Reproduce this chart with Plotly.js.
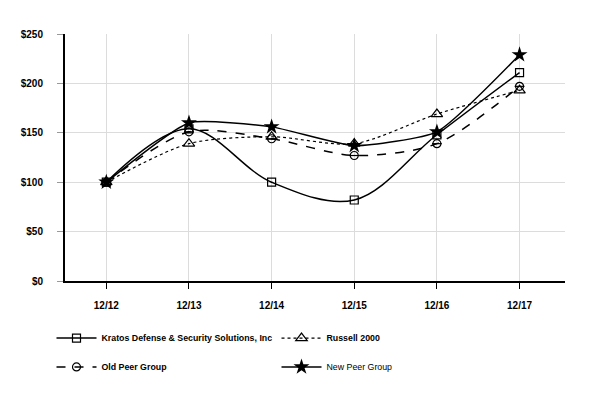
<!DOCTYPE html>
<html><head><meta charset="utf-8">
<script src="https://cdn.plot.ly/plotly-3.0.1.min.js"></script>
<style>body{margin:0;background:#fff}#c{width:600px;height:400px}</style>
</head><body><div id="c"></div>
<script>
const categories = ["12/12","12/13","12/14","12/15","12/16","12/17"];
const kratos = [100, 154, 100, 82, 148, 211];
const russell = [100, 139, 146, 139, 169, 193];
const oldPeer = [100, 151, 144, 127, 139, 197];
const newPeer = [100, 160, 156, 137, 151, 229];
const yTicks = [0, 50, 100, 150, 200, 250];
const yTickText = ["$0","$50","$100","$150","$200","$250"];

const idx = categories.map((_, i) => i);
const traces = [
  {x: idx, y: kratos, name: "<b>Kratos Defense & Security Solutions, Inc</b>", mode: "lines+markers", legend: "legend",
   line: {color: "#000", width: 1.5, shape: "spline", smoothing: 1},
   marker: {symbol: "square-open", size: 8, color: "#000", line: {width: 1.2}}},
  {x: idx, y: russell, name: "<b>Russell 2000</b>", mode: "lines+markers", legend: "legend",
   line: {color: "#000", width: 1.2, dash: "dot", shape: "spline", smoothing: 0.8},
   marker: {symbol: "triangle-up-open", size: 10, color: "#000", line: {width: 1.2}}},
  {x: idx, y: oldPeer, name: "<b>Old Peer Group</b>", mode: "lines+markers", legend: "legend2",
   line: {color: "#000", width: 1.5, dash: "dash", shape: "spline", smoothing: 0.8},
   marker: {symbol: "circle-open", size: 8, color: "#000", line: {width: 1.2}}},
  {x: idx, y: newPeer, name: "New Peer Group", mode: "lines+markers", legend: "legend2",
   line: {color: "#000", width: 1.5, shape: "spline", smoothing: 0.5},
   marker: {symbol: "star", size: 12, color: "#000"}},
  {x: idx, y: oldPeer, mode: "markers", showlegend: false, hoverinfo: "skip",
   marker: {symbol: "line-ew-open", size: 7, color: "#000", line: {width: 1.2, color: "#000"}}}
];

const legendBase = {orientation: "h", x: -0.027, xanchor: "left", yanchor: "middle",
  entrywidth: 170, entrywidthmode: "pixels", itemwidth: 40,
  font: {size: 8.8, color: "#000"}, bgcolor: "rgba(0,0,0,0)"};

const layout = {
  width: 600, height: 400,
  margin: {l: 65, r: 35, t: 34, b: 119},
  paper_bgcolor: "#fff", plot_bgcolor: "#fff",
  font: {family: "Liberation Sans, Arial, sans-serif", size: 10, color: "#000"},
  showlegend: true,
  legend: Object.assign({}, legendBase, {y: -0.231}),
  legend2: Object.assign({}, legendBase, {y: -0.348}),
  xaxis: {tickmode: "array", tickvals: idx, ticktext: categories.map(c => "<b>" + c + "</b>"),
          range: [-0.5, 5.55], showgrid: true, gridcolor: "#dcdcdc", gridwidth: 1,
          showline: true, linecolor: "#000", linewidth: 2, ticks: "outside", ticklen: 6,
          tickcolor: "#000", ticklabelstandoff: 8, zeroline: false, fixedrange: true},
  yaxis: {tickmode: "array", tickvals: yTicks, ticktext: yTickText.map(t => "<b>" + t + "</b>"),
          range: [0, 250], showgrid: true, gridcolor: "#dcdcdc", gridwidth: 1,
          showline: true, linecolor: "#000", linewidth: 2, ticks: "outside", ticklen: 6,
          tickcolor: "#999", ticklabelstandoff: 12, zeroline: false, fixedrange: true}
};
Plotly.newPlot("c", traces, layout, {staticPlot: true});
</script></body></html>
